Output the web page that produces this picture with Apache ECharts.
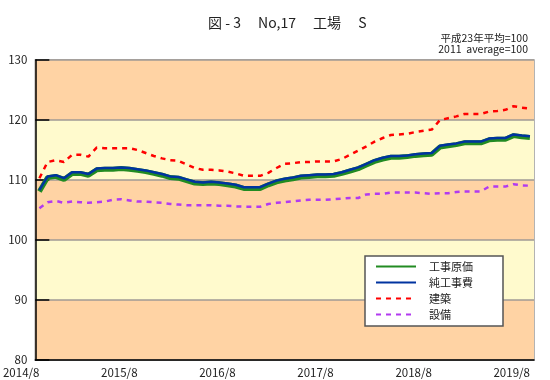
<!DOCTYPE html>
<html><head><meta charset="utf-8">
<script src="https://cdn.jsdelivr.net/npm/echarts@6/dist/echarts.min.js"></script>
<style>html,body{margin:0;padding:0;background:#fff}#c{width:550px;height:380px}</style>
</head><body><div id="c"></div>
<script>
var months = [
 '2014/8','2014/9','2014/10','2014/11','2014/12','2015/1','2015/2','2015/3','2015/4','2015/5','2015/6','2015/7',
 '2015/8','2015/9','2015/10','2015/11','2015/12','2016/1','2016/2','2016/3','2016/4','2016/5','2016/6','2016/7',
 '2016/8','2016/9','2016/10','2016/11','2016/12','2017/1','2017/2','2017/3','2017/4','2017/5','2017/6','2017/7',
 '2017/8','2017/9','2017/10','2017/11','2017/12','2018/1','2018/2','2018/3','2018/4','2018/5','2018/6','2018/7',
 '2018/8','2018/9','2018/10','2018/11','2018/12','2019/1','2019/2','2019/3','2019/4','2019/5','2019/6','2019/7',
 '2019/8'];
var koujiGenka = [
 108.1,110.4,110.6,110.1,111.1,111.1,110.8,111.7,111.8,111.8,111.9,111.8,
 111.6,111.4,111.1,110.8,110.4,110.3,109.9,109.5,109.4,109.5,109.4,109.2,
 109.0,108.6,108.6,108.6,109.2,109.7,110.0,110.2,110.5,110.6,110.7,110.7,
 110.8,111.1,111.5,111.9,112.5,113.1,113.5,113.8,113.8,113.9,114.1,114.2,
 114.3,115.5,115.7,115.9,116.2,116.2,116.2,116.7,116.8,116.8,117.4,117.2,
 117.1];
var junKoujihi = [
 108.3,110.6,110.8,110.3,111.3,111.3,111.0,111.9,112.0,112.0,112.1,112.0,
 111.8,111.6,111.3,111.0,110.6,110.5,110.1,109.7,109.6,109.7,109.6,109.4,
 109.2,108.8,108.8,108.8,109.4,109.9,110.2,110.4,110.7,110.8,110.9,110.9,
 111.0,111.3,111.7,112.1,112.7,113.3,113.7,114.0,114.0,114.1,114.3,114.4,
 114.5,115.7,115.9,116.1,116.4,116.4,116.4,116.9,117.0,117.0,117.6,117.4,
 117.3];
var kenchiku = [
 110.3,113.0,113.3,113.0,114.2,114.2,113.9,115.4,115.3,115.3,115.3,115.3,
 115.0,114.5,114.0,113.6,113.3,113.2,112.6,112.0,111.7,111.7,111.6,111.4,
 111.1,110.7,110.7,110.7,111.2,112.0,112.7,112.8,113.0,113.0,113.1,113.1,
 113.1,113.5,114.2,114.9,115.6,116.4,117.0,117.5,117.6,117.7,118.0,118.2,
 118.4,120.0,120.3,120.6,121.0,121.0,121.0,121.4,121.5,121.7,122.3,122.05,
 121.9];
var setsubi = [
 105.3,106.3,106.5,106.2,106.4,106.3,106.2,106.3,106.4,106.7,106.8,106.6,
 106.4,106.4,106.3,106.2,106.0,105.9,105.8,105.8,105.8,105.8,105.7,105.7,
 105.6,105.55,105.55,105.55,106.0,106.2,106.3,106.45,106.6,106.7,106.7,106.7,
 106.8,106.9,107.0,107.0,107.6,107.7,107.7,107.9,107.9,107.9,107.9,107.8,
 107.7,107.8,107.8,108.0,108.1,108.1,108.1,108.9,108.9,108.9,109.3,109.1,
 109.05];
var yTicks = {min: 80, max: 130, interval: 10};
var seriesNames = ['工事原価','純工事費','建築','設備'];
var titleText = '図 - 3　 No,17　 工場　 S';
var noteLine1 = '平成23年平均=100';
var noteLine2 = '2011  average=100';

var FONT = '"Noto Sans CJK JP", "Noto Sans", sans-serif';
var chart = echarts.init(document.getElementById('c'), null, {renderer: 'canvas'});
chart.setOption({
  animation: false,
  backgroundColor: '#ffffff',
  textStyle: {fontFamily: FONT},
  title: [
    {text: titleText, left: 203, top: 11, textStyle: {fontSize: 14, fontWeight: 'normal', color: '#222', fontFamily: FONT}},
    {text: noteLine1, right: 22, top: 33, padding: 0,
     textStyle: {fontSize: 10.5, fontWeight: 'normal', color: '#222', fontFamily: FONT}},
    {text: noteLine2, right: 22, top: 44, padding: 0,
     textStyle: {fontSize: 10.5, fontWeight: 'normal', color: '#222', fontFamily: FONT}}
  ],
  grid: {left: 34, right: 16, top: 60, bottom: 20, show: true, borderColor: '#9a9a9a', borderWidth: 1.5, backgroundColor: 'transparent'},
  legend: {
    orient: 'vertical', left: 365, top: 256,
    data: seriesNames,
    backgroundColor: '#ffffff', borderColor: '#555', borderWidth: 1.5, borderRadius: 0,
    padding: [5, 30, 6, 10], itemGap: 5, itemWidth: 40, itemHeight: 12,
    itemStyle: {opacity: 0},
    textStyle: {fontSize: 11, color: '#222', fontFamily: FONT, padding: [0, 0, 0, 8]}
  },
  xAxis: [{
    type: 'category', data: months, boundaryGap: true,
    axisLine: {lineStyle: {color: '#000', width: 1.5}},
    axisTick: {inside: true, interval: 0, length: 4, lineStyle: {color: '#000'}},
    axisLabel: {interval: function (i) { return i % 12 === 0; }, align: 'right', margin: 7,
      fontSize: 11.5, color: '#222', fontFamily: FONT},
    splitLine: {show: false}
  }, {
    type: 'category', data: months, boundaryGap: true, position: 'bottom',
    axisLine: {show: false},
    axisTick: {inside: true, interval: 11, length: 8, lineStyle: {color: '#000'}},
    axisLabel: {show: false}, splitLine: {show: false}
  }],
  yAxis: {
    type: 'value', min: yTicks.min, max: yTicks.max, interval: yTicks.interval,
    axisLine: {show: true, lineStyle: {color: '#000', width: 1.5}},
    axisTick: {show: true, inside: true, length: 14, lineStyle: {color: '#000', width: 1.5}},
    axisLabel: {fontSize: 11.5, color: '#222', margin: 8, fontFamily: FONT},
    splitLine: {show: true, lineStyle: {color: '#a09a94', width: 1.5}},
    splitArea: {show: true, areaStyle: {color: ['#FFD3A4', '#FFFACD']}}
  },
  series: [
    {name: seriesNames[0], type: 'line', data: koujiGenka, symbol: 'none', z: 3,
     lineStyle: {color: '#228B22', width: 5}, itemStyle: {color: '#228B22'}},
    {name: seriesNames[1], type: 'line', data: junKoujihi, symbol: 'none', z: 4,
     lineStyle: {color: '#0033A0', width: 2.5}, itemStyle: {color: '#0033A0'}},
    {name: seriesNames[2], type: 'line', data: kenchiku, symbol: 'none', z: 3,
     lineStyle: {color: '#FF0000', width: 2.5, type: [5, 5]}, itemStyle: {color: '#FF0000'}},
    {name: seriesNames[3], type: 'line', data: setsubi, symbol: 'none', z: 3,
     lineStyle: {color: '#B23AF0', width: 2.5, type: [5, 5]}, itemStyle: {color: '#B23AF0'}}
  ]
});
</script></body></html>
